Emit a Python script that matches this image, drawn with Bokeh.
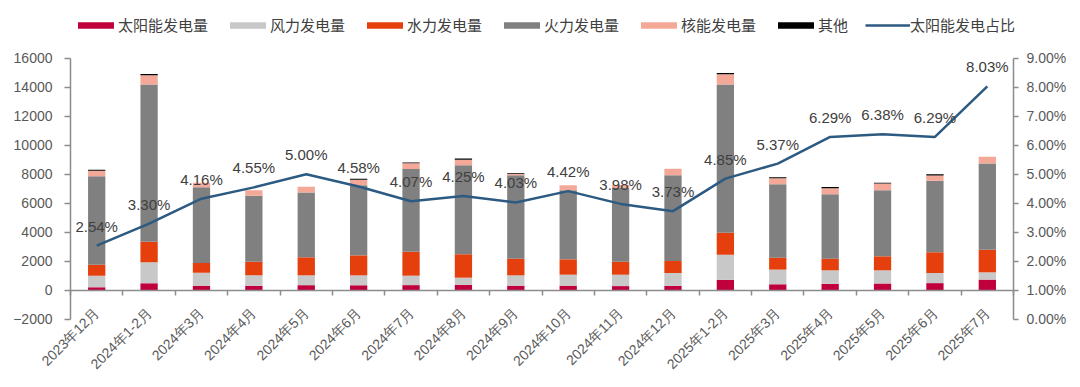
from math import pi
from bokeh.plotting import figure
from bokeh.models import (ColumnDataSource, Range1d, LinearAxis,
                          SingleIntervalTicker, FixedTicker, PrintfTickFormatter, LabelSet,
                          Legend, LegendItem)
from bokeh.core.properties import value
from bokeh.embed import file_html
from bokeh.resources import INLINE

months = ["2023年12月", "2024年1-2月", "2024年3月", "2024年4月", "2024年5月", "2024年6月",
          "2024年7月", "2024年8月", "2024年9月", "2024年10月", "2024年11月", "2024年12月",
          "2025年1-2月", "2025年3月", "2025年4月", "2025年5月", "2025年6月", "2025年7月"]

solar = [211, 490, 308, 314, 358, 352, 362, 386, 322, 321, 295, 314, 725, 420, 450, 474, 500, 742]
wind = [800, 1444, 912, 722, 678, 683, 650, 488, 713, 760, 785, 881, 1735, 1010, 931, 907, 697, 501]
hydro = [760, 1426, 670, 944, 1244, 1379, 1655, 1609, 1149, 1058, 897, 828, 1520, 826, 806, 967, 1427, 1565]
thermal = [6100, 10840, 5223, 4535, 4465, 4828, 5700, 6137, 5746, 4759, 5080, 5908, 10220, 5064, 4443, 4558, 4926, 5940]
nuclear = [368, 625, 300, 390, 390, 391, 390, 392, 90, 345, 200, 460, 690, 415, 414, 460, 369, 460]
other = [70, 90, 0, 0, 0, 60, 60, 80, 60, 0, 0, 0, 90, 60, 80, 60, 80, 0]
solar_pct = [2.54, 3.30, 4.16, 4.55, 5.00, 4.58, 4.07, 4.25, 4.03, 4.42, 3.98, 3.73,
             4.85, 5.37, 6.29, 6.38, 6.29, 8.03]

series_names = ["太阳能发电量", "风力发电量", "水力发电量", "火力发电量", "核能发电量", "其他"]
line_name = "太阳能发电占比"
stack_keys = ["solar", "wind", "hydro", "thermal", "nuclear", "other"]
colors = ["#C0003C", "#C8C8C8", "#E43F0C", "#808080", "#F4A898", "#000000"]
line_color = "#2C5A80"

left_bounds = (-2000, 16000)
left_ticks_interval = 2000
right_bounds = (0, 9)
right_ticks_interval = 1

n = len(months)
centers = [i + 0.5 for i in range(n)]
bounds = list(range(n + 1))

src = ColumnDataSource(dict(
    x=centers, month=months, solar=solar, wind=wind, hydro=hydro, thermal=thermal,
    nuclear=nuclear, other=other, pct=solar_pct,
    pct_label=["%.2f%%" % v for v in solar_pct],
))

FONT = "Liberation Sans"
TXT = "#595959"
AX = "#8C8C8C"

# The frame also covers the legend strip (top), the rotated month labels (bottom)
# and the axis label gutters (left/right); value axes are bounded to their spans.
Y0, Y1 = -5800, 19500
P0, P1 = Y0 / 2000 + 1, Y1 / 2000 + 1      # right scale: 0% at -2000, 9% at 16000
X0, X1 = -1.2407, n + 1.183

p = figure(x_range=Range1d(X0, X1), y_range=Range1d(Y0, Y1),
           frame_width=1070, frame_height=367,
           min_border_left=5, min_border_right=2, min_border_top=7, min_border_bottom=0,
           output_backend="svg", toolbar_location=None, x_axis_type=None, y_axis_type=None)
p.outline_line_color = None
p.xgrid.visible = False
p.ygrid.visible = False
p.extra_y_ranges = {"pct": Range1d(P0, P1)}


def style_axis(ax, tick_out, standoff):
    ax.axis_line_color = AX
    ax.axis_line_width = 1.5
    ax.major_tick_line_color = AX
    ax.major_tick_line_width = 1.5
    ax.major_tick_in = 0
    ax.major_tick_out = tick_out
    ax.minor_tick_line_color = None
    ax.major_label_standoff = standoff
    ax.major_label_text_font = FONT
    ax.major_label_text_font_size = "14px"
    ax.major_label_text_color = TXT


yl = LinearAxis(ticker=SingleIntervalTicker(interval=left_ticks_interval, num_minor_ticks=0),
                bounds=left_bounds, fixed_location=0)
style_axis(yl, 6, 12)
p.add_layout(yl, "left")

yr = LinearAxis(y_range_name="pct",
                ticker=SingleIntervalTicker(interval=right_ticks_interval, num_minor_ticks=0),
                formatter=PrintfTickFormatter(format="%.2f%%"), bounds=right_bounds,
                fixed_location=n)
style_axis(yr, 5, 8)
p.add_layout(yr, "right")

# zero line with category boundary ticks
xb = LinearAxis(ticker=FixedTicker(ticks=bounds), fixed_location=0, bounds=(0, n))
style_axis(xb, 5, 0)
xb.major_label_text_font_size = "0px"
xb.major_label_text_alpha = 0
p.add_layout(xb, "below")

bars = p.vbar_stack(stack_keys, x="x", width=0.33, color=colors, line_color=None, source=src)

ln = p.line(x="x", y="pct", y_range_name="pct", source=src, line_color=line_color, line_width=2.5)

labels = LabelSet(x="x", y="pct", text="pct_label", y_range_name="pct", source=src,
                  text_align="center", text_baseline="alphabetic", y_offset=14,
                  text_font=value(FONT), text_font_size="15px", text_color="#404040")
p.add_layout(labels)

# month labels, rotated 45 degrees, ending just under the zero line
month_labels = LabelSet(x="x", y=0, text="month", source=src, angle=pi / 4,
                        text_align="right", text_baseline="middle", x_offset=0, y_offset=-20,
                        text_font=value(FONT), text_font_size="14px", text_color=TXT)
p.add_layout(month_labels)

items = [LegendItem(label=nm, renderers=[r]) for nm, r in zip(series_names, bars)]
items.append(LegendItem(label=line_name, renderers=[ln]))
legend = Legend(items=items, orientation="horizontal", location=(68, 339),
                glyph_width=45, glyph_height=8, label_standoff=0, spacing=17,
                padding=0, margin=0, border_line_color=None, background_fill_alpha=0,
                label_text_font="Noto Sans CJK SC", label_text_font_size="15px",
                label_text_color="#404040")
p.add_layout(legend)

open("out.html", "w").write(file_html(p, INLINE))
